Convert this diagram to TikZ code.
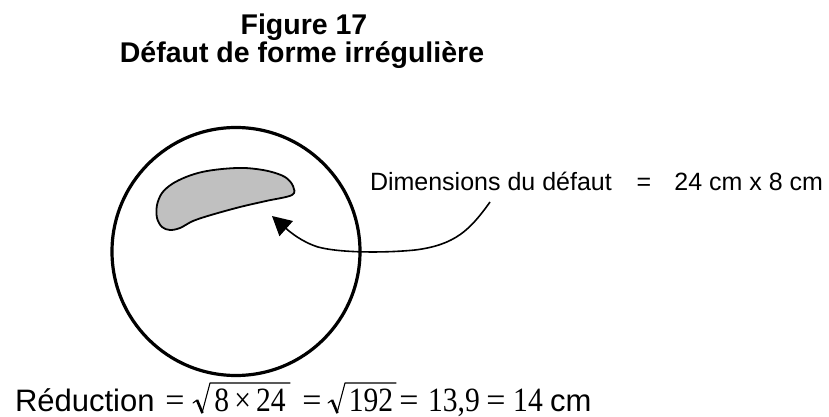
\documentclass[tikz,border=0pt]{standalone}
\usepackage{graphicx}
\usepackage{fontspec}
\setmainfont{Liberation Sans}
\newfontfamily\tms{Liberation Serif}
\usetikzlibrary{arrows.meta}
\definecolor{blobgray}{RGB}{192,192,192}
\newcommand{\nx}[1]{\scalebox{0.87}[1]{#1}}
\begin{document}
\begin{tikzpicture}[x=1pt,y=-1pt,
  every node/.style={inner sep=0pt, outer sep=0pt},
  ttl/.style={font=\bfseries\fontsize{28.5}{34}\selectfont, anchor=base},
  lbl/.style={font=\fontsize{25}{30}\selectfont},
  sns/.style={font=\fontsize{31}{36}\selectfont},
  mth/.style={font=\tms\fontsize{34}{40}\selectfont, anchor=base},
  radthin/.style={line width=1.1pt, line cap=round, line join=round},
  radthick/.style={line width=2.6pt, line cap=butt},
]
\useasboundingbox (0,0) rectangle (829,417);
% title
\node[ttl] (t1) at (304,35) {Figure 17};
\node[ttl] (t2) at (302,63) {Défaut de forme irrégulière};
% circle
\draw[line width=3.2pt] (236,251.5) circle[radius=124];
% defect
\draw[line width=1.8pt, fill=blobgray, line join=round]
  plot[smooth cycle, tension=0.55] coordinates {
  (292,195) (266,201) (240,207) (211,215) (193,221) (180,228) (170,230)
  (162,227) (157,218) (157,205) (162,193) (172,184) (186,177) (202,172)
  (222,169) (245,168) (268,171) (285,177) (293,186)};
% label
\node[lbl, anchor=base west] (dim) at (370,190) {Dimensions du défaut};
\node[lbl, anchor=base] (deq) at (644,190) {=};
\node[lbl, anchor=base east] (dval) at (823,190) {24 cm x 8 cm};
% arrow
\coordinate (tail) at (490,202);
\coordinate (tip) at (272,216);
\draw[line width=1.6pt, -{Triangle[length=19pt,width=20pt]}]
  (tail) .. controls (470,230) and (455,245) .. (415,250)
  .. controls (385,253) and (340,253) .. (318,247)
  .. controls (302,242) and (290,232) .. (tip);
% formula
\node[sns, anchor=base west] (red) at (15,411) {Réduction};
\node[mth] (e1) at (175,411) {=};
\draw[radthin] (193,403) -- (197,400);
\draw[radthick] (197,400) -- (202.5,413);
\draw[radthin] (202,413) -- (210,383) -- (290,383);
\node[mth] (r1) at (250,411) {\nx{8\hspace{6pt}×\hspace{6pt}24}};
\node[mth] (e2) at (312,411) {=};
\draw[radthin] (328,403) -- (332,400);
\draw[radthick] (332,400) -- (337.5,413);
\draw[radthin] (337,413) -- (345,383) -- (396,383);
\node[mth] (r2) at (371,411) {\nx{192}};
\node[mth] (e3) at (409,411) {=};
\node[mth] (n1) at (454,411) {\nx{13,9}};
\node[mth] (e4) at (496,411) {=};
\node[mth] (n2) at (528,411) {\nx{14}};
\node[sns, anchor=base west] (cm) at (550,411) {cm};
\end{tikzpicture}
\end{document}
